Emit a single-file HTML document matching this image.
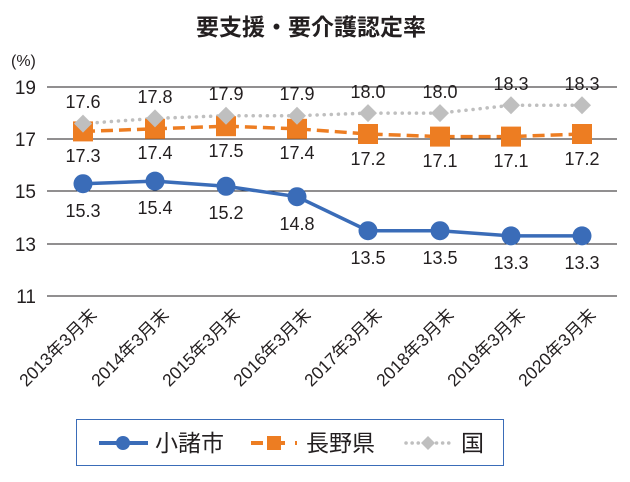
<!DOCTYPE html>
<html><head><meta charset="utf-8"><style>
html,body{margin:0;padding:0;background:#fff;}
svg{display:block;font-family:"Liberation Sans","Noto Sans CJK JP",sans-serif;}
</style></head><body>
<svg width="630" height="482" viewBox="0 0 630 482" xmlns="http://www.w3.org/2000/svg">
<text x="311" y="35" text-anchor="middle" font-size="23" font-weight="bold" fill="#231f20" font-family="Noto Sans CJK JP, sans-serif">要支援・要介護認定率</text>
<text x="11" y="66" font-size="16" fill="#231f20">(%)</text>
<g stroke="#231f20" stroke-width="1">
<line x1="47" y1="87" x2="617" y2="87"/>
<line x1="47" y1="139" x2="617" y2="139"/>
<line x1="47" y1="191" x2="617" y2="191"/>
<line x1="47" y1="244" x2="617" y2="244"/>
<line x1="47" y1="296" x2="617" y2="296"/>
</g>
<g font-size="19" fill="#231f20" text-anchor="end">
<text x="36" y="94">19</text><text x="36" y="146">17</text><text x="36" y="198">15</text><text x="36" y="251">13</text><text x="36" y="303">11</text>
</g>
<polyline fill="none" stroke="#bfbfbf" stroke-width="3.5" stroke-dasharray="0.1 7" stroke-linecap="round" points="83,123.6 155,118.4 226,115.7 297,115.7 368,113.1 440,113.1 511,105.3 582,105.3"/>
<polyline fill="none" stroke="#ed7d22" stroke-width="3.5" stroke-dasharray="12 6" points="83,131.4 155,128.8 226,126.2 297,128.8 368,134 440,136.6 511,136.6 582,134"/>
<g fill="#ed7d22">
<rect x="73" y="121.4" width="20" height="20"/><rect x="145" y="118.8" width="20" height="20"/><rect x="216" y="116.2" width="20" height="20"/><rect x="287" y="118.8" width="20" height="20"/><rect x="358" y="124" width="20" height="20"/><rect x="430" y="126.6" width="20" height="20"/><rect x="501" y="126.6" width="20" height="20"/><rect x="572" y="124" width="20" height="20"/>
</g>
<g fill="#bfbfbf">
<path d="M83,114.6 l9,9 l-9,9 l-9,-9z"/><path d="M155,109.4 l9,9 l-9,9 l-9,-9z"/><path d="M226,106.7 l9,9 l-9,9 l-9,-9z"/><path d="M297,106.7 l9,9 l-9,9 l-9,-9z"/><path d="M368,104.1 l9,9 l-9,9 l-9,-9z"/><path d="M440,104.1 l9,9 l-9,9 l-9,-9z"/><path d="M511,96.3 l9,9 l-9,9 l-9,-9z"/><path d="M582,96.3 l9,9 l-9,9 l-9,-9z"/>
</g>
<polyline fill="none" stroke="#3a6cb8" stroke-width="3.5" points="83,183.7 155,181.1 226,186.3 297,196.7 368,230.7 440,230.7 511,235.9 582,235.9"/>
<g fill="#3a6cb8">
<circle cx="83" cy="183.7" r="9.5"/><circle cx="155" cy="181.1" r="9.5"/><circle cx="226" cy="186.3" r="9.5"/><circle cx="297" cy="196.7" r="9.5"/><circle cx="368" cy="230.7" r="9.5"/><circle cx="440" cy="230.7" r="9.5"/><circle cx="511" cy="235.9" r="9.5"/><circle cx="582" cy="235.9" r="9.5"/>
</g>
<g font-size="18" fill="#231f20" text-anchor="middle">
<text x="83" y="108">17.6</text><text x="155" y="103">17.8</text><text x="226" y="100">17.9</text><text x="297" y="100">17.9</text><text x="368" y="98">18.0</text><text x="440" y="98">18.0</text><text x="511" y="90">18.3</text><text x="582" y="90">18.3</text>
<text x="83" y="162">17.3</text><text x="155" y="159">17.4</text><text x="226" y="157">17.5</text><text x="297" y="159">17.4</text><text x="368" y="165">17.2</text><text x="440" y="167">17.1</text><text x="511" y="167">17.1</text><text x="582" y="165">17.2</text>
<text x="83" y="217">15.3</text><text x="155" y="214">15.4</text><text x="226" y="219">15.2</text><text x="297" y="230">14.8</text><text x="368" y="264">13.5</text><text x="440" y="264">13.5</text><text x="511" y="269">13.3</text><text x="582" y="269">13.3</text>
</g>
<g font-size="17.5" fill="#231f20" text-anchor="end">
<text transform="translate(98,316) rotate(-45)">2013年3月末</text>
<text transform="translate(170,316) rotate(-45)">2014年3月末</text>
<text transform="translate(241,316) rotate(-45)">2015年3月末</text>
<text transform="translate(312,316) rotate(-45)">2016年3月末</text>
<text transform="translate(383,316) rotate(-45)">2017年3月末</text>
<text transform="translate(455,316) rotate(-45)">2018年3月末</text>
<text transform="translate(526,316) rotate(-45)">2019年3月末</text>
<text transform="translate(597,316) rotate(-45)">2020年3月末</text>
</g>
<rect x="76.5" y="419.5" width="427" height="46" fill="none" stroke="#3a6cb8" stroke-width="1"/>
<line x1="99" y1="443" x2="148" y2="443" stroke="#3a6cb8" stroke-width="4"/>
<circle cx="123" cy="443" r="7" fill="#3a6cb8"/>
<text x="155" y="451" font-size="23" fill="#231f20">小諸市</text>
<line x1="251" y1="443" x2="297" y2="443" stroke="#ed7d22" stroke-width="4" stroke-dasharray="12 10"/>
<rect x="267" y="436" width="14" height="14" fill="#ed7d22"/>
<text x="306" y="451" font-size="23" fill="#231f20">長野県</text>
<line x1="406" y1="443" x2="454" y2="443" stroke="#bfbfbf" stroke-width="3.5" stroke-dasharray="0.1 6" stroke-linecap="round"/>
<path d="M428,436 l7,7 l-7,7 l-7,-7z" fill="#bfbfbf"/>
<text x="461" y="451" font-size="23" fill="#231f20">国</text>
</svg>
</body></html>
